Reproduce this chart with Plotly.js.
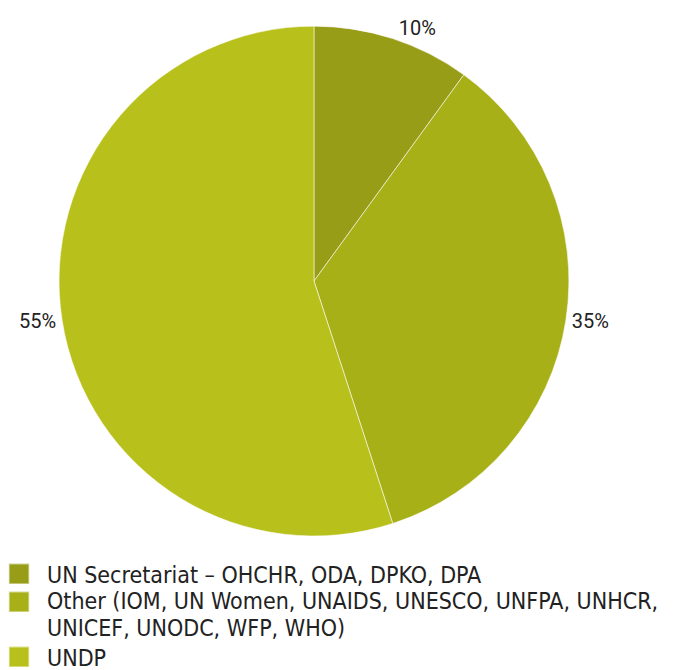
<!DOCTYPE html>
<html>
<head>
<meta charset="utf-8">
<script src="https://cdn.plot.ly/plotly-3.0.1.min.js"></script>
<style>html,body{margin:0;padding:0;background:#fff;}#chart{width:690px;height:670px;}</style>
</head>
<body>
<div id="chart"></div>
<script>
const categories = [
  "UN Secretariat – OHCHR, ODA, DPKO, DPA",
  "Other (IOM, UN Women, UNAIDS, UNESCO, UNFPA, UNHCR,<br>UNICEF, UNODC, WFP, WHO)",
  "UNDP"
];
const shares = [10, 35, 55];
const sliceColors = ["#979d17", "#a8b018", "#b8c01b"];

const trace = {
  type: "pie",
  labels: categories,
  values: shares,
  sort: false,
  direction: "clockwise",
  rotation: 0,
  marker: {colors: sliceColors, line: {color: "rgba(255,255,255,0.55)", width: 1}},
  textinfo: "percent",
  texttemplate: "%{percent:.0%}",
  textposition: "outside",
  outsidetextfont: {family: "Roboto, Arial, sans-serif", size: 20, color: "#222"},
  hoverinfo: "label+percent",
  domain: {x: [0.0855, 0.8246], y: [0.2, 0.961]},
  automargin: false
};

const layout = {
  width: 690, height: 670,
  margin: {l: 0, r: 0, t: 0, b: 0, autoexpand: false},
  paper_bgcolor: "#fff",
  showlegend: true,
  legend: {
    x: -0.013, y: 0.1756, xanchor: "left", yanchor: "top",
    orientation: "v",
    font: {family: "DejaVu Sans Condensed, sans-serif", size: 23, color: "#222"},
    tracegroupgap: 0,
    itemwidth: 46
  }
};

const LEGEND_LINE = 27;   // px between wrapped legend lines
const LEGEND_ROW = 28;    // px height of a one-line legend entry

Plotly.newPlot("chart", [trace], layout, {displayModeBar: false, staticPlot: true}).then(function (gd) {
  const items = Array.from(gd.querySelectorAll(".legend .traces"));
  let curY = null;
  let prevHalf = 0;
  items.forEach(function (g) {
    const tr = g.getAttribute("transform") || "";
    const m = /translate\(\s*([-\d.e]+)[ ,]+([-\d.e]+)\s*\)/.exec(tr);
    if (!m) return;
    const x = parseFloat(m[1]);
    const y = parseFloat(m[2]);
    const lines = g.querySelectorAll("text.legendtext tspan.line");
    const n = Math.max(lines.length, 1);
    const h = (n - 1) * LEGEND_LINE + LEGEND_ROW;
    if (curY === null) curY = y; else curY += prevHalf + h / 2;
    prevHalf = h / 2;
    g.setAttribute("transform", "translate(" + x + "," + curY + ")");
    lines.forEach(function (ts, i) {
      if (i > 0) ts.setAttribute("dy", (LEGEND_LINE / 23) + "em");
    });
    const shift = -(n - 1) * LEGEND_LINE / 2;
    g.querySelectorAll(".legendpoints path").forEach(function (p) {
      const t = p.getAttribute("transform") || "";
      p.setAttribute("transform", "translate(0," + shift + ") " + t + " scale(1.7)");
    });
  });
});
</script>
</body>
</html>
